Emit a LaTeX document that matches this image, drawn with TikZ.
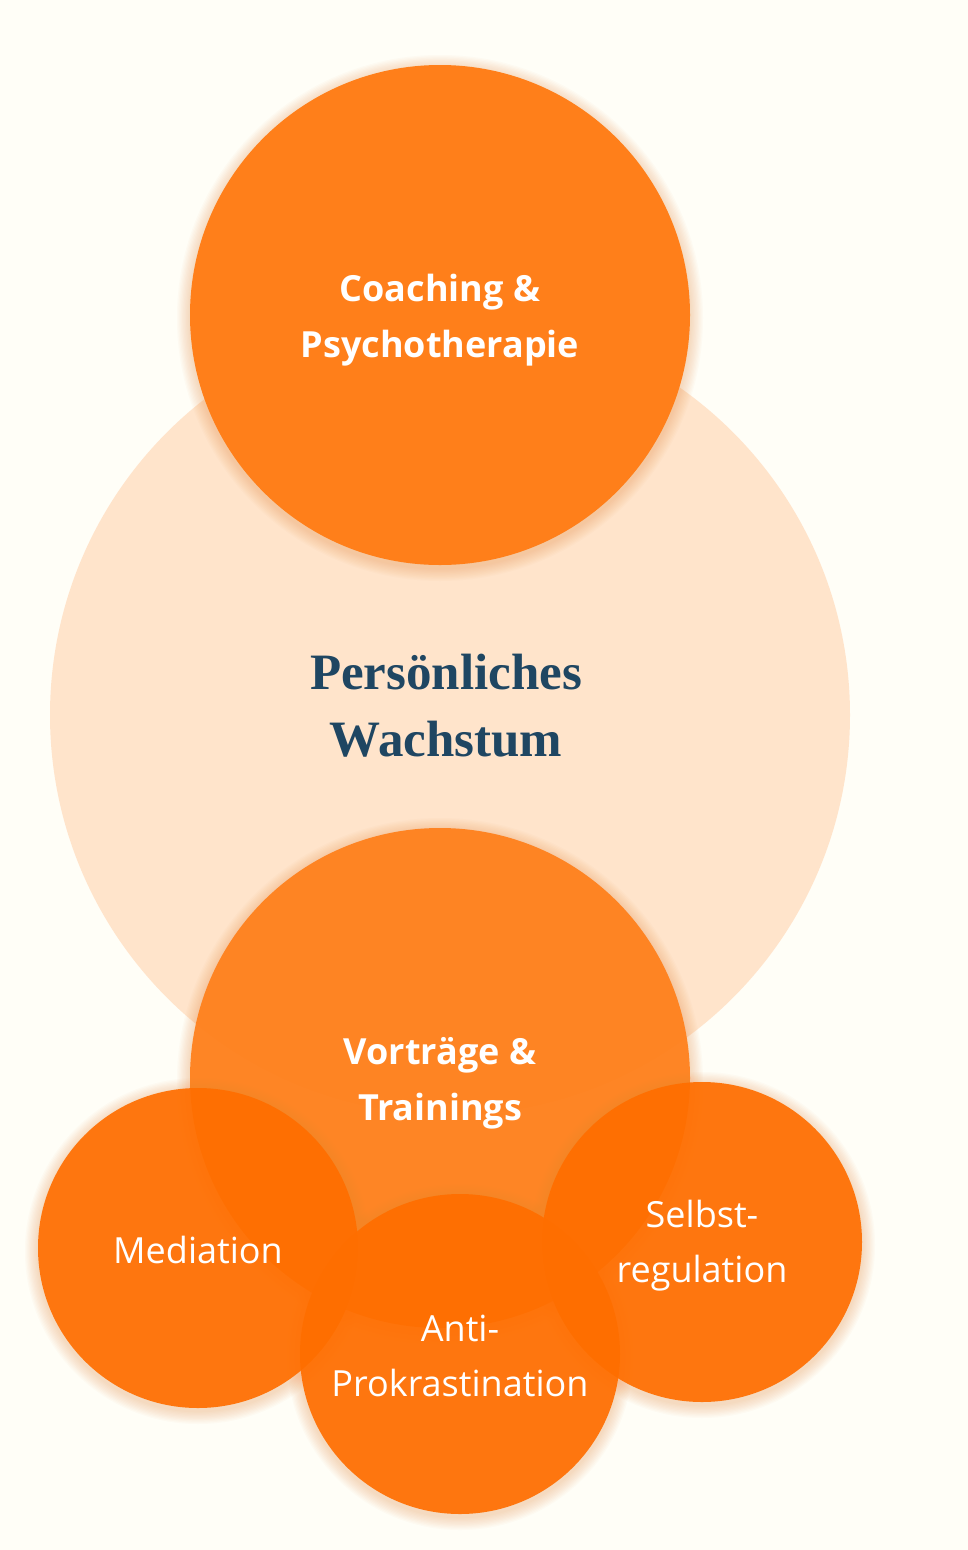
\documentclass[tikz,border=0pt]{standalone}
\usepackage{fontspec}
\setmainfont{Open Sans}
\newfontfamily\headserif{Liberation Serif}
\usepackage{xcolor}

\definecolor{cream}{HTML}{FFFEF7}
\definecolor{peach}{HTML}{FFE4CB}
\definecolor{navy}{HTML}{1F4662}
\definecolor{mainorange}{HTML}{FF7F1A}
\definecolor{deeporange}{HTML}{FF6E00}
\definecolor{glowcol}{HTML}{F58A3C}

\begin{document}
\begin{tikzpicture}[
    x=1pt, y=-1pt,
    halo/.style={fill=glowcol, fill opacity=0.03},
    core/.style={circle, fill=peach, minimum size=800pt, inner sep=0pt},
    pillar/.style={circle, fill=mainorange, minimum size=500pt, inner sep=0pt},
    topic/.style={circle, fill=deeporange, fill opacity=0.92,
        minimum size=320pt, inner sep=0pt},
    headtext/.style={text=navy, align=center,
        font=\headserif\bfseries\fontsize{51}{67}\selectfont},
    pillartext/.style={text=white, align=center,
        font=\bfseries\fontsize{36}{56}\selectfont},
    topictext/.style={text=white, align=center,
        font=\fontsize{36}{55}\selectfont}
]
    % Background
    \fill[cream] (0,0) rectangle (968,1550);
    \useasboundingbox (0,0) rectangle (968,1550);

    % Central theme
    \node[core] (growth) at (450,715) {};
    \node[headtext] (title) at (446,706) {Persönliches\\Wachstum};

    % Main pillars (with soft halo)
    \foreach \k in {1,...,10}
        \fill[halo] (440,318) circle ({250+1.3*\k});
    \node[pillar] (coaching) at (440,315) {};
    \node[pillartext] (coachtext) at (440,320) {Coaching \&\\Psychotherapie};
    \foreach \k in {1,...,10}
        \fill[halo] (440,1081) circle ({250+1.3*\k});
    \node[pillar, fill opacity=0.93] (talks) at (440,1078) {};
    \node[pillartext] (talktext) at (440,1083) {Vorträge \&\\Trainings};

    % Topics
    \foreach \cx/\cy in {198/1248, 702/1242, 460/1354}
        \foreach \k in {1,...,10}
            \fill[halo] (\cx,\cy+3) circle ({160+1.3*\k});
    \node[topic] (mediation) at (198,1248) {};
    \node[topic] (selfreg) at (702,1242) {};
    \node[topic] (antiprok) at (460,1354) {};
    \node[topictext] (medtext) at (198,1250) {Mediation};
    \node[topictext] (selftext) at (702,1246) {Selbst-\\regulation};
    \node[topictext] (antitext) at (460,1356) {Anti-\\Prokrastination};
\end{tikzpicture}
\end{document}
